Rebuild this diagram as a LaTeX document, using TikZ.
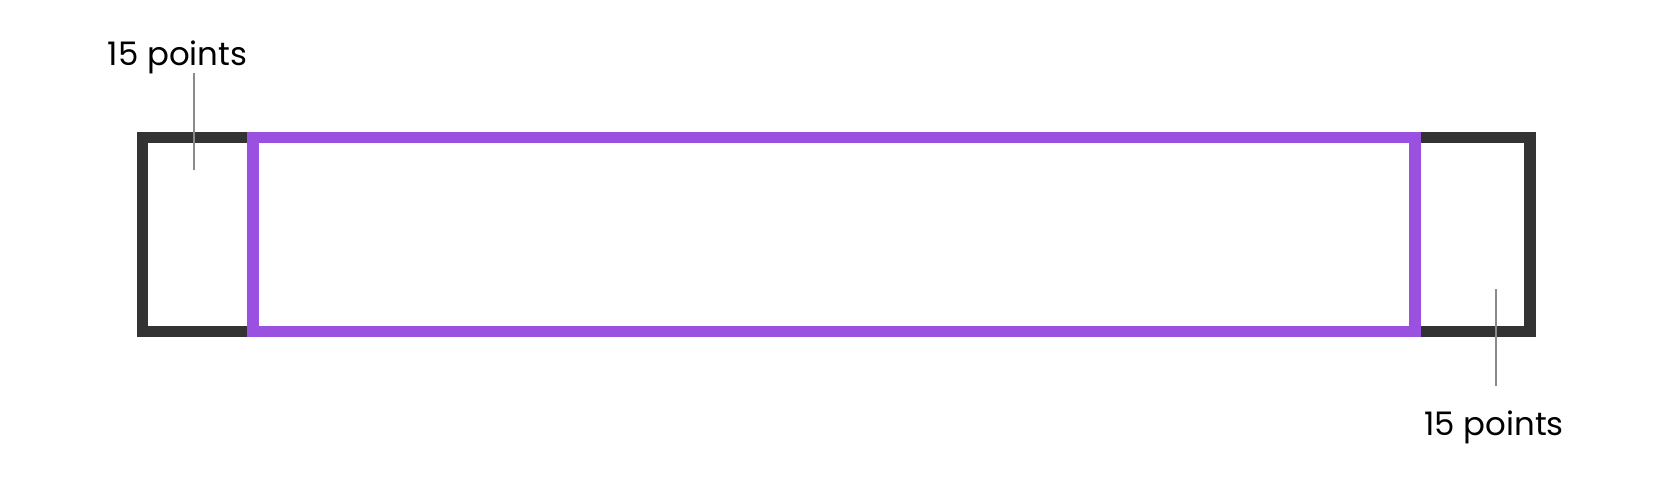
\documentclass[tikz,border=0pt]{standalone}
\usepackage{fontspec}
\setmainfont{Poppins}
\usetikzlibrary{positioning}

\definecolor{frame}{HTML}{333333}
\definecolor{inset}{HTML}{9B51E0}
\definecolor{leader}{HTML}{8A8A8A}

\tikzset{
  tag/.style={anchor=base, inner sep=0pt, font=\fontsize{16.2}{19}\selectfont},
  leadline/.style={leader, line width=1pt},
}

\begin{document}
\begin{tikzpicture}[x=0.5pt, y=-0.5pt]

\useasboundingbox (0,0) rectangle (1654,482);

% outer box and the inset box
\draw[frame, line width=5.85pt] (142.5,137.5) rectangle (1530.2,331.5);
\draw[inset, line width=5.85pt] (253.3,137.5) rectangle (1415,331.5);
%
\node[tag] (lefttag) at (177.5,65) {15 points};
\node[tag] (righttag) at (1494,435) {15 points};

\coordinate (ltop) at (194.3,73.3);
\coordinate (lbot) at (194.3,170);
\coordinate (rtop) at (1495.7,289.3);
\coordinate (rbot) at (1495.7,385.7);
\draw[leadline] (ltop) -- (lbot);
\draw[leadline] (rtop) -- (rbot);

\end{tikzpicture}
\end{document}
